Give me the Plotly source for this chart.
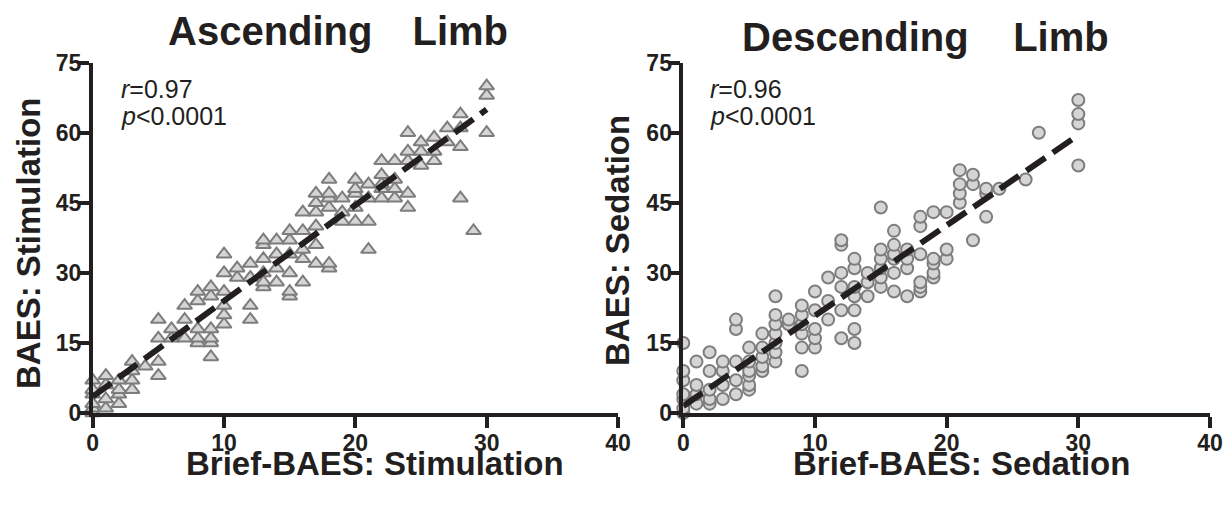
import plotly.graph_objects as go

# ---------------- data ----------------
# Ascending limb: Brief-BAES Stimulation (x) vs BAES Stimulation (y)
asc_x = ([0]*6 + [1]*4 + [2]*4 + [3]*4 + [4] + [5]*4 + [6]*2 + [7]*3 + [8]*5 + [9]*6 +
         [10]*6 + [11]*2 + [12]*4 + [13]*6 + [14]*4 + [15]*6 + [16]*5 + [17]*6 + [18]*6 +
         [19]*3 + [20]*5 + [21]*4 + [22]*5 + [23]*4 + [24]*5 + [25]*3 + [26]*3 + [27]*2 +
         [28]*4 + [29] + [30]*3)
asc_y = [0, 1, 2, 4, 5, 7,
         1, 3, 6, 8,
         2, 4, 5, 7,
         5, 7, 9, 11,
         10,
         8, 11, 16, 20,
         16, 18,
         16, 20, 23,
         15, 16, 18, 24, 26,
         12, 15, 16, 18, 25, 27,
         19, 21, 23, 26, 30, 34,
         29, 31,
         20, 23, 29, 32,
         27, 28, 30, 33, 36, 37,
         28, 31, 34, 37,
         25, 26, 30, 34, 37, 39,
         28, 33, 35, 39, 43,
         32, 36, 40, 43, 45, 47,
         31, 32, 44, 46, 47, 50,
         41, 43, 46,
         41, 44, 47, 48, 50,
         35, 41, 46, 49,
         46, 48, 49, 51, 54,
         46, 48, 50, 54,
         44, 47, 54, 56, 60,
         53, 56, 58,
         54, 56, 59,
         58, 61,
         46, 57, 61, 64,
         39,
         60, 68, 70]

# Descending limb: Brief-BAES Sedation (x) vs BAES Sedation (y)
desc_x = ([0]*7 + [1]*4 + [2]*5 + [3]*4 + [4]*5 + [5]*6 + [6]*5 + [7]*7 + [8]*2 + [9]*6 +
          [10]*5 + [11]*3 + [12]*6 + [13]*7 + [14]*3 + [15]*6 + [16]*6 + [17]*4 + [18]*6 +
          [19]*5 + [20]*3 + [21]*4 + [22]*3 + [23]*3 + [24] + [26] + [27] + [30]*4)
desc_y = [0, 1, 3, 4, 7, 9, 15,
          2, 4, 6, 11,
          2, 3, 5, 9, 13,
          3, 6, 9, 11,
          4, 7, 11, 18, 20,
          5, 6, 8, 9, 11, 14,
          9, 10, 12, 14, 17,
          11, 13, 15, 17, 19, 21, 25,
          19, 20,
          9, 14, 17, 19, 21, 23,
          14, 16, 18, 22, 26,
          20, 24, 29,
          16, 22, 27, 30, 36, 37,
          15, 18, 22, 25, 27, 31, 33,
          25, 28, 30,
          27, 29, 31, 33, 35, 44,
          26, 30, 33, 34, 36, 39,
          25, 31, 33, 35,
          26, 27, 28, 34, 40, 42,
          29, 30, 32, 33, 43,
          33, 35, 43,
          45, 47, 49, 52,
          37, 49, 51,
          42, 47, 48,
          48,
          50,
          60,
          53, 62, 64, 67]

# regression lines (end points)
asc_fit_x = [0, 30]
asc_fit_y = [3.5, 65.0]
desc_fit_x = [0, 30]
desc_fit_y = [1.5, 59.5]

x_ticks = [0, 10, 20, 30, 40]
y_ticks = [0, 15, 30, 45, 60, 75]

titles = ["Ascending\u00a0\u00a0\u00a0\u2006Limb", "Descending\u00a0\u00a0\u00a0\u00a0Limb"]
x_titles = ["Brief-BAES: Stimulation", "Brief-BAES: Sedation"]
y_titles = ["BAES: Stimulation", "BAES: Sedation"]
stats_r = ["0.97", "0.96"]
stats_p = ["0.0001", "0.0001"]

# ---------------- figure ----------------
W, H = 1228, 506
FONT = "Liberation Sans, Arial, sans-serif"
INK = "#231f20"


def px_x(p):
    return p / W


def px_y(p):
    return 1 - p / H


fig = go.Figure()

fig.add_trace(go.Scatter(
    x=asc_x, y=asc_y, mode="markers", xaxis="x", yaxis="y", cliponaxis=False,
    marker=dict(symbol="triangle-up", size=13, color="#d5d5d5",
                line=dict(color="#7d7d7d", width=2)),
    showlegend=False, hoverinfo="skip"))
fig.add_trace(go.Scatter(
    x=asc_fit_x, y=asc_fit_y, mode="lines", xaxis="x", yaxis="y", cliponaxis=False,
    line=dict(color=INK, width=6, dash="23px,9px"), showlegend=False, hoverinfo="skip"))

fig.add_trace(go.Scatter(
    x=desc_x, y=desc_y, mode="markers", xaxis="x2", yaxis="y2", cliponaxis=False,
    marker=dict(symbol="circle", size=12, color="#d5d5d5",
                line=dict(color="#7d7d7d", width=2)),
    showlegend=False, hoverinfo="skip"))
fig.add_trace(go.Scatter(
    x=desc_fit_x, y=desc_fit_y, mode="lines", xaxis="x2", yaxis="y2", cliponaxis=False,
    line=dict(color=INK, width=6, dash="23px,9px"), showlegend=False, hoverinfo="skip"))

y_dom = [px_y(413), px_y(62.7)]
axis_common = dict(
    showgrid=False, zeroline=False, showline=True, linecolor=INK, linewidth=3.5,
    ticks="outside", ticklen=11, tickwidth=3.5, tickcolor=INK, automargin=False,
    tickfont=dict(family=FONT, size=23, color=INK, weight="bold"),
    fixedrange=True,
)

fig.update_layout(
    width=W, height=H, autosize=False,
    margin=dict(l=0, r=0, t=0, b=0, pad=0, autoexpand=False),
    paper_bgcolor="white", plot_bgcolor="white",
    xaxis=dict(domain=[px_x(92.7), px_x(618)], range=[0, 40], tickvals=x_ticks,
               anchor="y", ticklabelstandoff=-4, **axis_common),
    yaxis=dict(domain=y_dom, range=[0, 75], tickvals=y_ticks, anchor="x",
               ticklabelstandoff=-8, **axis_common),
    xaxis2=dict(domain=[px_x(683.3), px_x(1210)], range=[0, 40], tickvals=x_ticks,
                anchor="y2", ticklabelstandoff=-4, **axis_common),
    yaxis2=dict(domain=y_dom, range=[0, 75], tickvals=y_ticks, anchor="x2",
                ticklabelstandoff=-8, **axis_common),
)

ann = []
# panel titles
ann.append(dict(text=titles[0], x=px_x(337.5), y=px_y(31), xanchor="center", yanchor="middle",
                font=dict(family=FONT, size=40, color=INK, weight="bold")))
ann.append(dict(text=titles[1], x=px_x(925), y=px_y(37), xanchor="center", yanchor="middle",
                font=dict(family=FONT, size=40, color=INK, weight="bold")))
# x-axis titles
ann.append(dict(text=x_titles[0], x=px_x(375), y=px_y(463), xanchor="center", yanchor="middle",
                font=dict(family=FONT, size=33, color=INK, weight="bold")))
ann.append(dict(text=x_titles[1], x=px_x(961), y=px_y(463), xanchor="center", yanchor="middle",
                font=dict(family=FONT, size=33, color=INK, weight="bold")))
# y-axis titles
ann.append(dict(text=y_titles[0], x=px_x(28), y=px_y(243), xanchor="center", yanchor="middle",
                textangle=-90, font=dict(family=FONT, size=33, color=INK, weight="bold")))
ann.append(dict(text=y_titles[1], x=px_x(617), y=px_y(241), xanchor="center", yanchor="middle",
                textangle=-90, font=dict(family=FONT, size=33, color=INK, weight="bold")))
# stats
for i, x0 in enumerate([119, 708]):
    ann.append(dict(text="<i>r</i>=" + stats_r[i], x=px_x(x0), y=px_y(89), xanchor="left",
                    yanchor="middle", font=dict(family=FONT, size=25, color=INK)))
    ann.append(dict(text="<i>p</i>&lt;" + stats_p[i], x=px_x(x0), y=px_y(116), xanchor="left",
                    yanchor="middle", font=dict(family=FONT, size=25, color=INK)))

for a in ann:
    a.update(xref="paper", yref="paper", showarrow=False)
fig.update_layout(annotations=ann)

fig.write_html("out.html", config={"displayModeBar": False},
               post_script="document.body.style.margin='0';document.body.style.overflow='hidden';")
